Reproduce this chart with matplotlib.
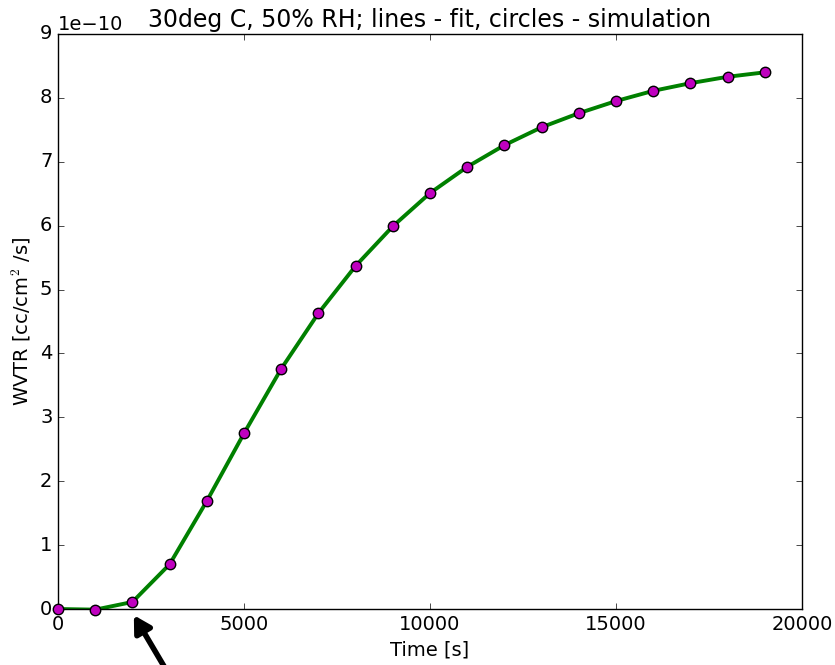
import matplotlib
matplotlib.use("Agg")
import matplotlib.pyplot as plt

plt.style.use("classic")
plt.rcParams["font.size"] = 14

# simulation points (circles)
sim_time = [0, 1000, 2000, 3000, 4000, 5000, 6000, 7000, 8000, 9000,
            10000, 11000, 12000, 13000, 14000, 15000, 16000, 17000, 18000, 19000]
sim_wvtr = [0.0, -0.01, 0.11, 0.70, 1.69, 2.75, 3.76, 4.63, 5.37, 5.99,
            6.51, 6.92, 7.26, 7.54, 7.76, 7.95, 8.11, 8.23, 8.33, 8.40]

# fit curve (line)
fit_time = [0, 1000, 2000, 3000, 4000, 5000, 6000, 7000, 8000, 9000,
            10000, 11000, 12000, 13000, 14000, 15000, 16000, 17000, 18000, 19000]
fit_wvtr = [0.0, -0.01, 0.11, 0.70, 1.69, 2.75, 3.76, 4.63, 5.37, 5.99,
            6.51, 6.92, 7.26, 7.54, 7.76, 7.95, 8.11, 8.23, 8.33, 8.40]

scale = 1e-10

fig = plt.figure(figsize=(8.35, 6.65), dpi=100, facecolor="white")
ax = fig.add_axes([0.0695, 0.0842, 0.891, 0.8647])

ax.plot(fit_time, [v * scale for v in fit_wvtr], "-", color="green", lw=2.8, zorder=2)
ax.plot(sim_time, [v * scale for v in sim_wvtr], "o", color="m", mec="black",
        mew=1, markersize=7.5, zorder=3, clip_on=False)

ax.set_xlim(0, 20000)
ax.set_ylim(0, 9e-10)
ax.tick_params(labelsize=14)
ax.yaxis.get_offset_text().set_fontsize(14)
ax.set_xlabel("Time [s]", fontsize=14)
ax.set_ylabel("WVTR [cc/cm$^2$ /s]", fontsize=14)
ax.set_title("30deg C, 50% RH; lines - fit, circles - simulation", fontsize=17)

# arrow pointing at the 2000 s point, coming from below the figure
ax.annotate("", xy=(2000, -0.06e-10), xycoords="data",
            xytext=(178, -25), textcoords="figure pixels",
            arrowprops=dict(arrowstyle="-|>,head_length=0.7,head_width=0.4",
                            color="black", lw=4),
            annotation_clip=False)

fig.savefig("out.png", dpi=100, facecolor="white")
